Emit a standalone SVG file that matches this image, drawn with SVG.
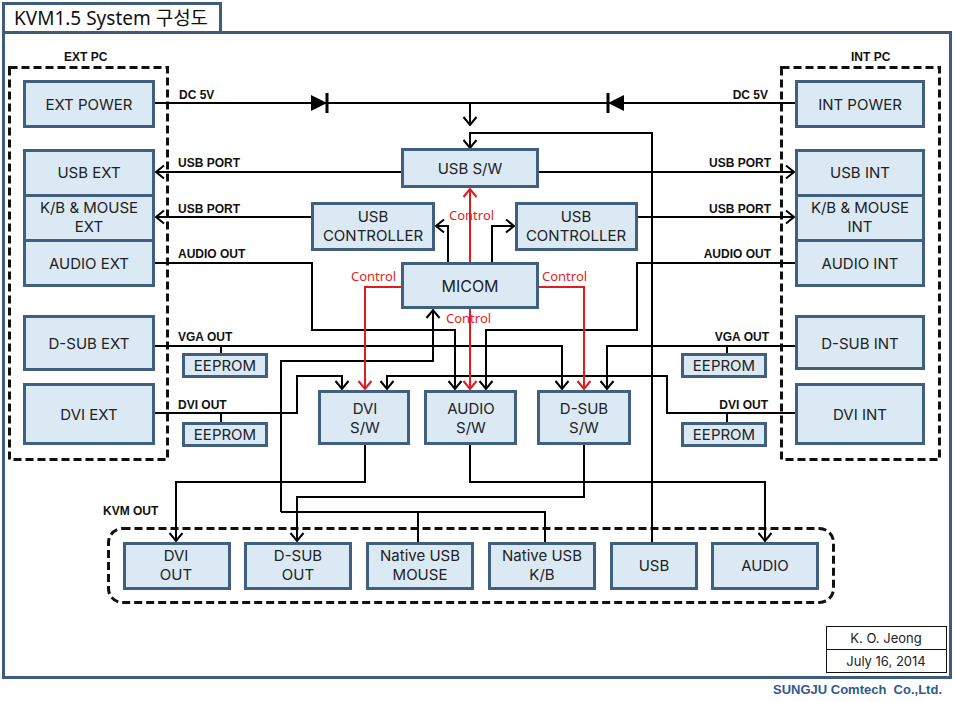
<svg xmlns="http://www.w3.org/2000/svg" width="955" height="702" viewBox="0 0 955 702">
<style>
.frame{fill:none;stroke:#3e5c7c;stroke-width:3}
.box{fill:#dbe9f5;stroke:#41607f;stroke-width:3}
.ee{fill:#dbe9f5;stroke:#41607f;stroke-width:3}
.dash{fill:none;stroke:#111;stroke-width:3;stroke-dasharray:8 4}
.t{font-family:Inter,"Liberation Sans",sans-serif;font-size:15px;fill:#222;text-anchor:middle}
.lbl{font-family:"Liberation Sans",sans-serif;font-weight:bold;font-size:12px;fill:#111}
.ctl{font-family:"Noto Sans","Liberation Sans",sans-serif;font-size:13px;fill:#e02424}
.w{fill:none;stroke:#000;stroke-width:2}
.r{fill:none;stroke:#e31b1b;stroke-width:2}
.aw{marker-end:url(#ab)}
.ar{marker-end:url(#arr)}
</style>
<defs>
<marker id="ab" markerUnits="userSpaceOnUse" markerWidth="16" markerHeight="16" refX="10" refY="8" orient="auto" viewBox="0 0 16 16" overflow="visible">
<path d="M2,1.5 L10,8 L2,14.5" fill="none" stroke="#000" stroke-width="2"/>
</marker>
<marker id="arr" markerUnits="userSpaceOnUse" markerWidth="16" markerHeight="16" refX="10" refY="8" orient="auto" viewBox="0 0 16 16" overflow="visible">
<path d="M2,1.5 L10,8 L2,14.5" fill="none" stroke="#e31b1b" stroke-width="2"/>
</marker>
</defs>
<rect x="0" y="0" width="955" height="702" fill="#fff"/>
<g id="frame">
<rect class="frame" x="3.5" y="32.5" width="947" height="645"/>
<rect x="3.5" y="3.5" width="217" height="29" fill="#fff" stroke="#3e5c7c" stroke-width="3"/>
<text x="14" y="25" font-family="'Noto Sans','Noto Sans CJK KR',sans-serif" font-size="19" fill="#111">KVM1.5 System 구성도</text>
</g>
<g id="groups">
<rect class="dash" x="9.5" y="67.5" width="158" height="392"/>
<text class="lbl" x="64" y="61">EXT PC</text>
<rect class="dash" x="781.5" y="67.5" width="158" height="392"/>
<text class="lbl" x="851" y="61">INT PC</text>
<rect class="dash" x="108.5" y="528.5" width="725" height="74" rx="14"/>
<text class="lbl" x="103" y="515">KVM OUT</text>
</g>
<g id="connectors">
<path class="w" d="M154,103 H796"/>
<polygon points="311,95 311,111 327,103" fill="#000"/>
<path d="M327,93 V113" stroke="#000" stroke-width="3"/>
<polygon points="624,95 624,111 608,103" fill="#000"/>
<path d="M608,93 V113" stroke="#000" stroke-width="3"/>
<path class="w aw" d="M470,103 V125"/>
<path class="w aw" d="M652,543 V133 H470 V148"/>
<path class="w aw" d="M402,172 H156"/>
<path class="w aw" d="M538,172 H794"/>
<path class="w aw" d="M312,217 H156"/>
<path class="w aw" d="M637,217 H794"/>
<path class="w aw" d="M448,263 V226 H436"/>
<path class="w aw" d="M492,263 V226 H514"/>
<path class="w aw" d="M154,263 H312 V330 H455 V389"/>
<path class="w aw" d="M796,263 H637 V330 H486 V389"/>
<path class="w aw" d="M154,346 H562 V389"/>
<path class="w" d="M221,346 V354"/>
<path class="w aw" d="M796,346 H607 V389"/>
<path class="w" d="M727,346 V354"/>
<path class="w aw" d="M154,413 H297 V376 H342 V389"/>
<path class="w aw" d="M796,413 H667 V376 H387 V389"/>
<path class="w" d="M221,413 V423"/>
<path class="w" d="M727,413 V423"/>
<path class="w aw" d="M281,512 V361 H433 V310"/>
<path class="w" d="M281,512 H545 V543"/>
<path class="w" d="M418,512 V543"/>
<path class="w aw" d="M365,444 V482 H176 V541"/>
<path class="w aw" d="M584,444 V497 H297 V541"/>
<path class="w aw" d="M470,444 V482 H765 V541"/>
<path class="r ar" d="M470,263 V189"/>
<path class="r ar" d="M402,287 H365 V389"/>
<path class="r ar" d="M538,287 H584 V389"/>
<path class="r ar" d="M470,308 V389"/>
<text class="ctl" x="449" y="220">Control</text>
<text class="ctl" x="351" y="281">Control</text>
<text class="ctl" x="542" y="281">Control</text>
<text class="ctl" x="446" y="323">Control</text>
<text class="lbl" x="179" y="99">DC 5V</text>
<text class="lbl" x="768" y="99" text-anchor="end">DC 5V</text>
<text class="lbl" x="178" y="167">USB PORT</text>
<text class="lbl" x="771" y="167" text-anchor="end">USB PORT</text>
<text class="lbl" x="178" y="213">USB PORT</text>
<text class="lbl" x="771" y="213" text-anchor="end">USB PORT</text>
<text class="lbl" x="178" y="258">AUDIO OUT</text>
<text class="lbl" x="771" y="258" text-anchor="end">AUDIO OUT</text>
<text class="lbl" x="178" y="341">VGA OUT</text>
<text class="lbl" x="769" y="341" text-anchor="end">VGA OUT</text>
<text class="lbl" x="178" y="409">DVI OUT</text>
<text class="lbl" x="768" y="409" text-anchor="end">DVI OUT</text>
</g>
<g id="ext-power"><rect class="box" x="24.5" y="81.5" width="129" height="45"/><text class="t" x="89" y="110">EXT POWER</text></g>
<g id="usb-ext"><rect class="box" x="24.5" y="150.5" width="129" height="45"/><text class="t" x="89" y="178">USB EXT</text></g>
<g id="kb-ext"><rect class="box" x="24.5" y="195.5" width="129" height="45"/><text class="t" x="89" y="213">K/B &amp; MOUSE</text><text class="t" x="89" y="232">EXT</text></g>
<g id="audio-ext"><rect class="box" x="24.5" y="240.5" width="129" height="45"/><text class="t" x="89" y="269">AUDIO EXT</text></g>
<g id="dsub-ext"><rect class="box" x="24.5" y="316.5" width="129" height="53"/><text class="t" x="89" y="349">D-SUB EXT</text></g>
<g id="dvi-ext"><rect class="box" x="24.5" y="384.5" width="129" height="59"/><text class="t" x="89" y="420">DVI EXT</text></g>
<g id="int-power"><rect class="box" x="796.5" y="81.5" width="127" height="45"/><text class="t" x="860" y="110">INT POWER</text></g>
<g id="usb-int"><rect class="box" x="796.5" y="150.5" width="127" height="45"/><text class="t" x="860" y="178">USB INT</text></g>
<g id="kb-int"><rect class="box" x="796.5" y="195.5" width="127" height="45"/><text class="t" x="860" y="213">K/B &amp; MOUSE</text><text class="t" x="860" y="232">INT</text></g>
<g id="audio-int"><rect class="box" x="796.5" y="240.5" width="127" height="45"/><text class="t" x="860" y="269">AUDIO INT</text></g>
<g id="dsub-int"><rect class="box" x="796.5" y="316.5" width="127" height="52"/><text class="t" x="860" y="349">D-SUB INT</text></g>
<g id="dvi-int"><rect class="box" x="796.5" y="384.5" width="127" height="59"/><text class="t" x="860" y="420">DVI INT</text></g>
<g id="eeprom-l1"><rect class="ee" x="183.5" y="354.5" width="83" height="22"/><text class="t" x="225" y="371">EEPROM</text></g>
<g id="eeprom-l2"><rect class="ee" x="183.5" y="423.5" width="83" height="22"/><text class="t" x="225" y="440">EEPROM</text></g>
<g id="eeprom-r1"><rect class="ee" x="682.5" y="354.5" width="83" height="22"/><text class="t" x="724" y="371">EEPROM</text></g>
<g id="eeprom-r2"><rect class="ee" x="682.5" y="423.5" width="83" height="22"/><text class="t" x="724" y="440">EEPROM</text></g>
<g id="usb-sw"><rect class="box" x="402.5" y="149.5" width="135" height="37"/><text class="t" x="470" y="174">USB S/W</text></g>
<g id="usb-ctrl-l"><rect class="box" x="312.5" y="203.5" width="121" height="46"/><text class="t" x="373" y="222">USB</text><text class="t" x="373" y="241">CONTROLLER</text></g>
<g id="usb-ctrl-r"><rect class="box" x="516.5" y="203.5" width="120" height="46"/><text class="t" x="576" y="222">USB</text><text class="t" x="576" y="241">CONTROLLER</text></g>
<g id="micom"><rect class="box" x="402.5" y="263.5" width="135" height="44"/><text class="t" x="470" y="292" style="font-size:16px">MICOM</text></g>
<g id="dvi-sw"><rect class="box" x="319.5" y="391.5" width="89" height="52"/><text class="t" x="365" y="414">DVI</text><text class="t" x="365" y="433">S/W</text></g>
<g id="audio-sw"><rect class="box" x="425.5" y="391.5" width="90" height="52"/><text class="t" x="471" y="414">AUDIO</text><text class="t" x="471" y="433">S/W</text></g>
<g id="dsub-sw"><rect class="box" x="538.5" y="391.5" width="91" height="52"/><text class="t" x="584" y="414">D-SUB</text><text class="t" x="584" y="433">S/W</text></g>
<g id="dvi-out"><rect class="box" x="124.5" y="543.5" width="105" height="45"/><text class="t" x="176" y="561">DVI</text><text class="t" x="176" y="580">OUT</text></g>
<g id="dsub-out"><rect class="box" x="245.5" y="543.5" width="105" height="45"/><text class="t" x="298" y="561">D-SUB</text><text class="t" x="298" y="580">OUT</text></g>
<g id="native-mouse"><rect class="box" x="367.5" y="543.5" width="105" height="45"/><text class="t" x="420" y="561">Native USB</text><text class="t" x="420" y="580">MOUSE</text></g>
<g id="native-kb"><rect class="box" x="489.5" y="543.5" width="105" height="45"/><text class="t" x="542" y="561">Native USB</text><text class="t" x="542" y="580">K/B</text></g>
<g id="usb-out"><rect class="box" x="611.5" y="543.5" width="85" height="45"/><text class="t" x="654" y="571">USB</text></g>
<g id="audio-out"><rect class="box" x="712.5" y="543.5" width="105" height="45"/><text class="t" x="765" y="571">AUDIO</text></g>
<g id="signature">
<rect x="826.5" y="626.5" width="120" height="23" fill="#fff" stroke="#111" stroke-width="1"/>
<rect x="826.5" y="649.5" width="120" height="23" fill="#fff" stroke="#111" stroke-width="1"/>
<text class="t" x="886" y="643" style="font-size:13px">K. O. Jeong</text>
<text class="t" x="886" y="666" style="font-size:13px">July 16, 2014</text>
</g>
<text x="942" y="694" text-anchor="end" font-family="'Liberation Sans',sans-serif" font-weight="bold" font-size="13" fill="#2f5b8c" xml:space="preserve">SUNGJU Comtech  Co.,Ltd.</text>
</svg>
